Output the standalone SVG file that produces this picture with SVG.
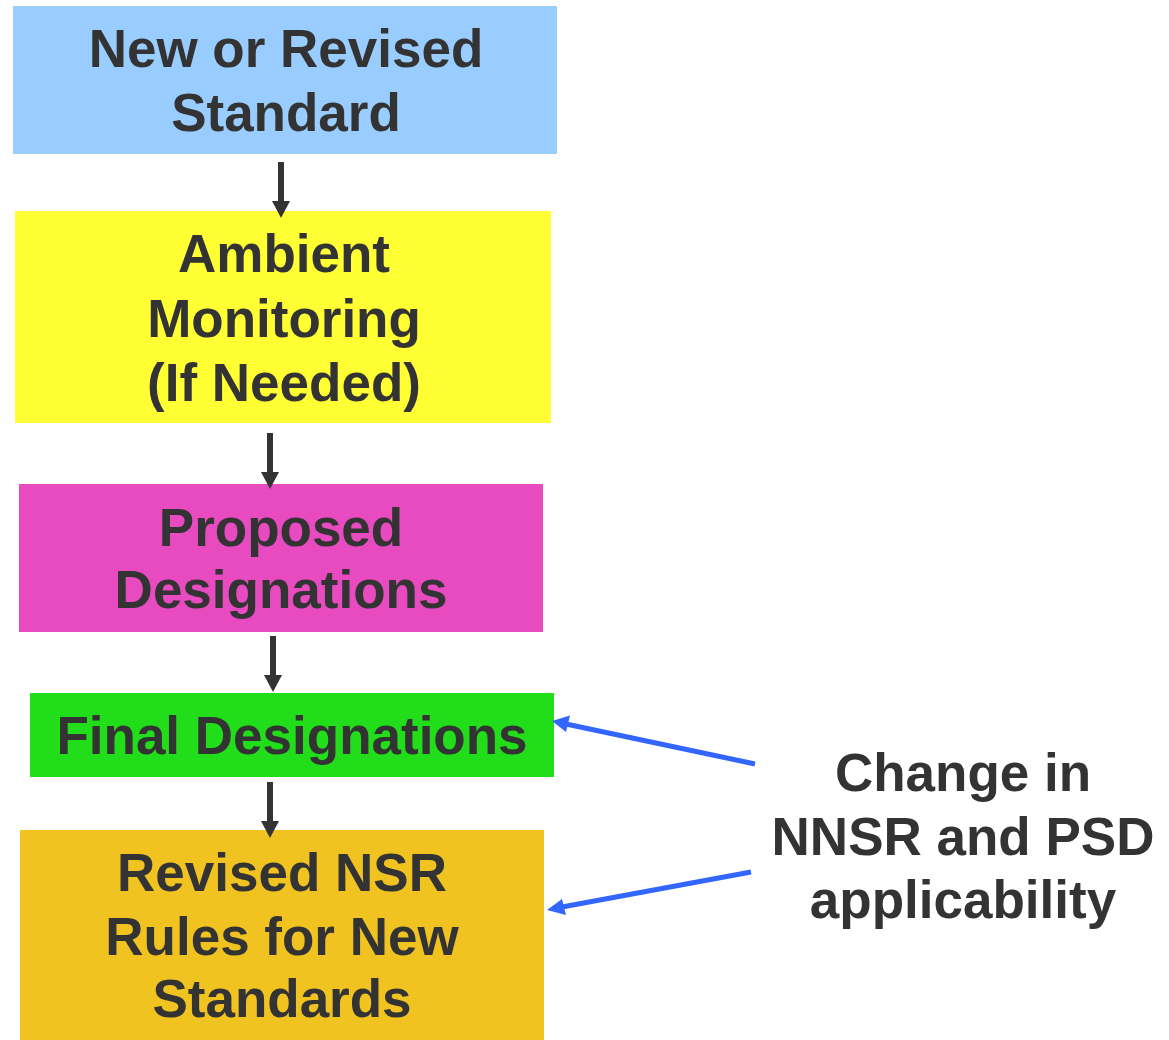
<svg xmlns="http://www.w3.org/2000/svg" width="1169" height="1040" viewBox="0 0 1169 1040">
<defs>
<style>
.t{font-family:"Liberation Sans",Arial,sans-serif;font-weight:bold;font-size:53px;fill:#333333;text-anchor:middle}
.a{stroke:#333333;stroke-width:6;fill:none}
.b{stroke:#3366FF;stroke-width:5;fill:none}
</style>
</defs>
<rect width="1169" height="1040" fill="#ffffff"/>
<g id="n1"><rect x="13" y="6" width="544" height="148" fill="#99CCFF"/><text class="t" x="286" y="67">New or Revised</text><text class="t" x="286" y="131">Standard</text></g>
<g id="n2"><rect x="15" y="211" width="536" height="212" fill="#FFFF33"/><text class="t" x="284" y="272">Ambient</text><text class="t" x="284" y="337">Monitoring</text><text class="t" x="284" y="401">(If Needed)</text></g>
<g id="n3"><rect x="19" y="484" width="524" height="148" fill="#E84BC0"/><text class="t" x="281" y="546">Proposed</text><text class="t" x="281" y="608">Designations</text></g>
<g id="n4"><rect x="30" y="693" width="524" height="84" fill="#22DD1A"/><text class="t" x="292" y="754">Final Designations</text></g>
<g id="n5"><rect x="20" y="830" width="524" height="210" fill="#F0C321"/><text class="t" x="282" y="891">Revised NSR</text><text class="t" x="282" y="955">Rules for New</text><text class="t" x="282" y="1017">Standards</text></g>
<g id="n6"><text class="t" x="963" y="791">Change in</text><text class="t" x="963" y="855">NNSR and PSD</text><text class="t" x="963" y="918">applicability</text></g>
<g id="connectors">
<line class="a" x1="281" y1="162" x2="281" y2="202"/><path d="M272,201 L290,201 L281,218 Z" fill="#333333"/>
<line class="a" x1="270" y1="433" x2="270" y2="473"/><path d="M261,472 L279,472 L270,489 Z" fill="#333333"/>
<line class="a" x1="273" y1="636" x2="273" y2="676"/><path d="M264,675 L282,675 L273,692 Z" fill="#333333"/>
<line class="a" x1="270" y1="782" x2="270" y2="822"/><path d="M261,821 L279,821 L270,838 Z" fill="#333333"/>
<line class="b" x1="755" y1="764" x2="566" y2="724"/><path d="M552,721 L570,715.5 L566,732 Z" fill="#3366FF"/>
<line class="b" x1="751" y1="872" x2="562" y2="907"/><path d="M547,910 L562,899 L566,915 Z" fill="#3366FF"/>
</g>
</svg>
